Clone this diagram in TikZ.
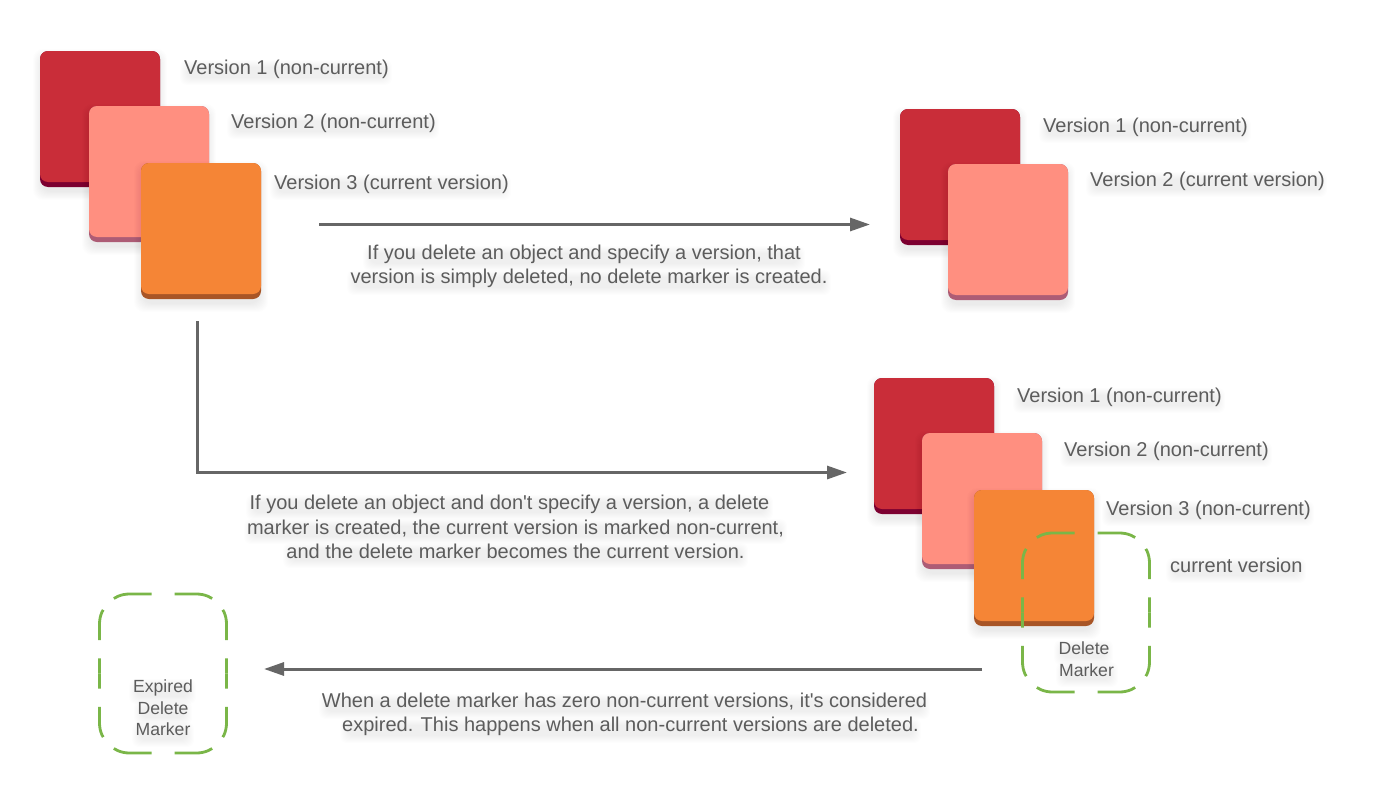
\documentclass[tikz,border=0pt]{standalone}
\usepackage{fontspec}
\setmainfont{Liberation Sans}[Ligatures=TeXOff]
\usetikzlibrary{arrows.meta}
\definecolor{txt}{HTML}{5C5C5C}
\definecolor{linegray}{HTML}{666666}
\definecolor{mgreen}{HTML}{7AB648}
\definecolor{redF}{HTML}{C92D39}\definecolor{redL}{HTML}{7C0030}
\definecolor{pinkF}{HTML}{FF8F80}\definecolor{pinkL}{HTML}{AD5C75}
\definecolor{orangeF}{HTML}{F58536}\definecolor{orangeL}{HTML}{A85526}
\tikzset{
  x=1pt,y=-1pt,
  face/.style={anchor=north west,inner sep=0pt,outer sep=0pt,minimum width=120pt,rounded corners=8pt},
  conn/.style={draw=linegray,line width=3pt,-{Triangle[length=20pt,width=13pt]}},
  lab/.style={font=\fontsize{20}{24.2}\selectfont,text=txt,inner sep=0pt,align=center},
  small/.style={font=\fontsize{17.6}{21.5}\selectfont,text=txt,inner sep=0pt,align=center},
  dmark/.style={draw=mgreen,line width=2.8pt,rounded corners=30pt,
     dash pattern=on 0pt off 11.5pt on 38.5pt off 15.8pt on 30.8pt off 18.3pt on 30pt off 100pt},
  mbox/.style={inner sep=0pt,outer sep=0pt,minimum width=127pt,minimum height=159pt,anchor=north west},
}
% name, x, y, face colour, lip colour
\newcommand\vblock[5]{%
  \foreach \k in {1,...,10}{\fill[black,opacity=.009,rounded corners=10pt]
     (#2+2-\k*0.9,#3+7-\k*0.9) rectangle (#2+118+\k*0.9,#3+136+4+\k*0.9);}
  \node[face,fill=#5,minimum height=136pt] (#1-lip) at (#2,#3) {};
  \node[face,fill=#4,minimum height=131pt] (#1) at (#2,#3) {};
}
% soft band behind a line of text: x from, x to, baseline
\newcommand\halo[3]{%
  \foreach \k in {0,...,7}{\fill[black,opacity=.009,rounded corners=7pt]
     (#1+3-\k,#3-7-\k) rectangle (#2-3+\k,#3+4+\k);}
}
% dashed outline of a marker box, drawn mirror-wise from top and bottom centres
\newcommand\markeroutline[1]{%
  \draw[dmark] (#1.north) -- (#1.north east) -- (#1.east);
  \draw[dmark] (#1.north) -- (#1.north west) -- (#1.west);
  \draw[dmark] (#1.south) -- (#1.south east) -- (#1.east);
  \draw[dmark] (#1.south) -- (#1.south west) -- (#1.west);
}
\begin{document}
\begin{tikzpicture}
\useasboundingbox (0,0) rectangle (1382,811);
\fill[white] (0,0) rectangle (1382,811);

% top-left stack
\vblock{a1}{40}{51}{redF}{redL}
\vblock{a2}{89}{106}{pinkF}{pinkL}
\vblock{a3}{141}{163}{orangeF}{orangeL}
\halo{184}{388}{74}\node[lab,anchor=base west] (ta1) at (184,74) {Version 1 (non-current)};
\halo{231}{435}{128}\node[lab,anchor=base west] (ta2) at (231,128) {Version 2 (non-current)};
\halo{274}{507}{189}\node[lab,anchor=base west] (ta3) at (274,189) {Version 3 (current version)};

% top-right stack
\vblock{b1}{900}{109}{redF}{redL}
\vblock{b2}{948}{164}{pinkF}{pinkL}
\halo{1043}{1247}{132}\node[lab,anchor=base west] (tb1) at (1043,132) {Version 1 (non-current)};
\halo{1090}{1323}{186}\node[lab,anchor=base west] (tb2) at (1090,186) {Version 2 (current version)};

% middle-right stack
\vblock{c1}{874}{378}{redF}{redL}
\vblock{c2}{922}{433}{pinkF}{pinkL}
\vblock{c3}{974}{490}{orangeF}{orangeL}
\halo{1017}{1221}{402}\node[lab,anchor=base west] (tc1) at (1017,402) {Version 1 (non-current)};
\halo{1064}{1268}{456}\node[lab,anchor=base west] (tc2) at (1064,456) {Version 2 (non-current)};
\halo{1106}{1310}{515}\node[lab,anchor=base west] (tc3) at (1106,515) {Version 3 (non-current)};
\halo{1170}{1302}{572}\node[lab,anchor=base west] (tc4) at (1170,572) {current version};

% delete marker
\node[mbox] (dm) at (1022.5,533) {};
\markeroutline{dm}
\halo{1058}{1109}{654}\halo{1060}{1114}{676}
\node[small] (tdm) at (1086.5,659) {Delete\hspace*{5pt}\\Marker};

% expired delete marker
\node[mbox] (em) at (99.5,594) {};
\markeroutline{em}
\halo{133}{192}{693}\halo{138}{188}{714}\halo{136}{190}{736}
\node[small] (tem) at (163,708) {Expired\\Delete\\Marker};

% connectors
\coordinate (s1) at (319,224.5);
\coordinate (e1) at (870,224.5);
\draw[conn] (s1) -- (e1);
\coordinate (s2) at (197,321);
\coordinate (e2) at (847,472.5);
\draw[conn] (s2) |- (e2);
\coordinate (s3) at (982,669);
\coordinate (e3) at (264,669);
\draw[conn] (s3) -- (e3);

% captions
\halo{367}{801}{260}\halo{351}{827}{284}
\node[lab] (cap1) at (589,266.5) {If you delete an object and specify a version, that\hspace*{10pt}\\version is simply deleted, no delete marker is created.};
\halo{250}{769}{509}\halo{248}{783}{533}\halo{287}{744}{557}
\node[lab] (cap2) at (515.5,527) {If you delete an object and don't specify a version, a delete\hspace*{12pt}\\marker is created, the current version is marked non-current,\\and the delete marker becomes the current version.};
\halo{323}{926}{708}\halo{344}{917}{732}
\node[lab] (cap3) at (630.5,714.5) {When a delete marker has zero non-current versions, it's considered\hspace*{12pt}\\expired. This happens when all non-current versions are deleted.};
\end{tikzpicture}
\end{document}
